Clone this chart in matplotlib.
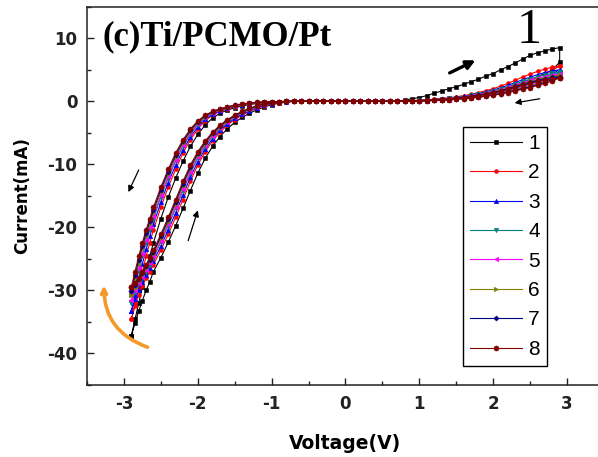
import matplotlib
matplotlib.use("Agg")
import matplotlib.pyplot as plt
from matplotlib.ticker import MultipleLocator

plt.rcParams["axes.unicode_minus"] = False

# Voltage grids (V): flat region near zero, positive branch, negative branch
V_FLAT = [0.0, 0.1, 0.2, 0.3, 0.4, 0.5, 0.6, 0.7]
V_FLAT_NEG = [0.0, -0.1, -0.2, -0.3, -0.4, -0.5, -0.6, -0.7]
V_POS = [0.8, 0.9, 1.0, 1.1, 1.2, 1.3, 1.4, 1.5, 1.6, 1.7, 1.8,
         1.9, 2.0, 2.1, 2.2, 2.3, 2.4, 2.5, 2.6, 2.7, 2.8, 2.9]
V_NEG = [-0.8, -0.9, -1.0, -1.1, -1.2, -1.3, -1.4, -1.5, -1.6, -1.7,
         -1.8, -1.9, -2.0, -2.1, -2.2, -2.3, -2.4, -2.5, -2.6,
         -2.65, -2.7, -2.75, -2.8, -2.85, -2.9]
I_FLAT = [0, 0, 0, 0, 0, 0, 0, 0]

cycles = ["1", "2", "3", "4", "5", "6", "7", "8"]

# Current (mA), positive side, sweep 0 -> +2.9 V (listed along V_POS)
POS_OUT = [
    [0.2, 0.4, 0.6, 0.9, 1.3, 1.6, 2.0, 2.3, 2.7, 3.1, 3.5, 4.0, 4.4, 5.0, 5.5, 6.1, 6.7, 7.3, 7.7, 8.0, 8.3, 8.5],
    [0.05, 0.1, 0.16, 0.23, 0.32, 0.43, 0.56, 0.72, 0.9, 1.12, 1.38, 1.68, 2.0, 2.4, 2.85, 3.35, 3.85, 4.3, 4.75, 5.1, 5.4, 5.6],
    [0.04, 0.09, 0.14, 0.2, 0.28, 0.38, 0.5, 0.64, 0.8, 1.0, 1.23, 1.5, 1.78, 2.14, 2.54, 2.98, 3.43, 3.83, 4.23, 4.54, 4.81, 5.0],
    [0.04, 0.08, 0.13, 0.19, 0.26, 0.35, 0.46, 0.59, 0.74, 0.92, 1.13, 1.38, 1.64, 1.97, 2.34, 2.75, 3.16, 3.53, 3.9, 4.18, 4.43, 4.6],
    [0.04, 0.08, 0.12, 0.18, 0.25, 0.33, 0.43, 0.55, 0.69, 0.86, 1.06, 1.29, 1.54, 1.85, 2.19, 2.58, 2.96, 3.31, 3.66, 3.93, 4.16, 4.3],
    [0.04, 0.07, 0.12, 0.17, 0.23, 0.31, 0.41, 0.53, 0.66, 0.82, 1.0, 1.23, 1.46, 1.75, 2.08, 2.45, 2.81, 3.14, 3.47, 3.72, 3.94, 4.1],
    [0.04, 0.07, 0.11, 0.16, 0.22, 0.3, 0.39, 0.5, 0.63, 0.78, 0.97, 1.18, 1.4, 1.68, 2.0, 2.35, 2.7, 3.01, 3.33, 3.57, 3.78, 3.9],
    [0.03, 0.07, 0.11, 0.15, 0.21, 0.28, 0.37, 0.48, 0.59, 0.74, 0.91, 1.11, 1.32, 1.58, 1.88, 2.21, 2.54, 2.84, 3.14, 3.37, 3.56, 3.7],
]
# Current (mA), positive side, sweep +2.9 -> 0 V (listed along V_POS)
POS_BACK = [
    [0.03, 0.06, 0.1, 0.15, 0.21, 0.29, 0.38, 0.5, 0.64, 0.8, 1.0, 1.25, 1.5, 1.8, 2.2, 2.6, 3.0, 3.4, 3.9, 4.4, 5.0, 6.2],
    [0.03, 0.05, 0.09, 0.14, 0.2, 0.28, 0.37, 0.48, 0.62, 0.78, 0.97, 1.2, 1.45, 1.75, 2.1, 2.5, 2.9, 3.3, 3.8, 4.3, 4.9, 5.6],
    [0.03, 0.04, 0.08, 0.12, 0.18, 0.25, 0.33, 0.43, 0.55, 0.69, 0.86, 1.07, 1.29, 1.56, 1.87, 2.23, 2.58, 2.94, 3.38, 3.83, 4.36, 5.0],
    [0.02, 0.04, 0.07, 0.11, 0.16, 0.23, 0.3, 0.39, 0.51, 0.64, 0.8, 0.98, 1.19, 1.44, 1.72, 2.05, 2.38, 2.71, 3.12, 3.53, 4.02, 4.6],
    [0.02, 0.04, 0.07, 0.11, 0.15, 0.22, 0.28, 0.37, 0.48, 0.6, 0.75, 0.92, 1.12, 1.35, 1.62, 1.93, 2.23, 2.54, 2.93, 3.31, 3.77, 4.3],
    [0.02, 0.04, 0.07, 0.1, 0.15, 0.2, 0.27, 0.35, 0.45, 0.57, 0.71, 0.88, 1.06, 1.28, 1.53, 1.83, 2.12, 2.41, 2.77, 3.14, 3.58, 4.1],
    [0.02, 0.04, 0.06, 0.1, 0.14, 0.2, 0.26, 0.34, 0.43, 0.55, 0.68, 0.84, 1.02, 1.23, 1.47, 1.75, 2.03, 2.31, 2.66, 3.01, 3.43, 3.9],
    [0.02, 0.03, 0.06, 0.09, 0.13, 0.18, 0.24, 0.32, 0.41, 0.51, 0.64, 0.79, 0.96, 1.16, 1.39, 1.65, 1.91, 2.18, 2.51, 2.84, 3.23, 3.7],
]
# Current (mA), negative side, sweep 0 -> -2.9 V (listed along V_NEG)
NEG_OUT = [
    [-0.05, -0.08, -0.14, -0.23, -0.35, -0.51, -0.74, -1.04, -1.4, -1.9, -2.65, -3.75, -5.25, -7.15, -9.5, -12.2, -15.2, -18.6, -22.4, -24.6, -27.0, -29.5, -32.0, -34.6, -37.2],
    [-0.04, -0.06, -0.1, -0.18, -0.28, -0.42, -0.6, -0.88, -1.2, -1.6, -2.2, -3.1, -4.4, -6.1, -8.2, -10.8, -13.6, -16.8, -20.4, -22.4, -24.6, -27.0, -29.5, -32.0, -34.6],
    [-0.035, -0.055, -0.09, -0.16, -0.255, -0.385, -0.555, -0.81, -1.12, -1.5, -2.05, -2.88, -4.08, -5.68, -7.68, -10.15, -12.9, -16.0, -19.5, -21.4, -23.5, -25.8, -28.25, -30.75, -33.3],
    [-0.03, -0.05, -0.08, -0.14, -0.23, -0.35, -0.51, -0.74, -1.04, -1.4, -1.9, -2.65, -3.75, -5.25, -7.15, -9.5, -12.2, -15.2, -18.6, -20.4, -22.4, -24.6, -27.0, -29.5, -32.0],
    [-0.028, -0.048, -0.076, -0.132, -0.22, -0.336, -0.492, -0.712, -1.01, -1.36, -1.84, -2.56, -3.62, -5.08, -6.94, -9.24, -11.9, -14.9, -18.2, -20.0, -22.0, -24.2, -26.5, -29.0, -31.5],
    [-0.025, -0.045, -0.07, -0.12, -0.205, -0.315, -0.465, -0.67, -0.96, -1.3, -1.75, -2.43, -3.43, -4.83, -6.63, -8.85, -11.5, -14.4, -17.7, -19.5, -21.4, -23.5, -25.8, -28.25, -30.75],
    [-0.022, -0.042, -0.065, -0.11, -0.19, -0.3, -0.44, -0.64, -0.92, -1.25, -1.68, -2.32, -3.27, -4.62, -6.37, -8.53, -11.15, -14.0, -17.25, -19.05, -20.9, -22.95, -25.2, -27.6, -30.1],
    [-0.02, -0.04, -0.06, -0.1, -0.18, -0.28, -0.42, -0.6, -0.88, -1.2, -1.6, -2.2, -3.1, -4.4, -6.1, -8.2, -10.8, -13.6, -16.8, -18.6, -20.4, -22.4, -24.6, -27.0, -29.5],
]
# Current (mA), negative side, sweep -2.9 -> 0 V (listed along V_NEG)
NEG_BACK = [
    [-0.15, -0.3, -0.55, -0.9, -1.35, -1.9, -2.55, -3.35, -4.35, -5.6, -7.15, -9.05, -11.4, -14.15, -17.0, -19.75, -22.35, -24.8, -27.0, -28.6, -30.0, -31.6, -33.3, -35.2, -37.2],
    [-0.1, -0.2, -0.4, -0.7, -1.1, -1.6, -2.2, -2.9, -3.8, -4.9, -6.3, -8.0, -10.1, -12.7, -15.6, -18.4, -21.1, -23.6, -25.9, -27.0, -28.1, -29.3, -30.7, -32.5, -34.6],
    [-0.08, -0.175, -0.35, -0.625, -1.0, -1.475, -2.05, -2.725, -3.575, -4.625, -5.95, -7.575, -9.575, -12.05, -14.875, -17.7, -20.425, -22.975, -25.35, -26.45, -27.55, -28.65, -29.85, -31.4, -33.3],
    [-0.06, -0.15, -0.3, -0.55, -0.9, -1.35, -1.9, -2.55, -3.35, -4.35, -5.6, -7.15, -9.05, -11.4, -14.15, -17.0, -19.75, -22.35, -24.8, -25.9, -27.0, -28.0, -29.0, -30.3, -32.0],
    [-0.054, -0.14, -0.28, -0.52, -0.86, -1.3, -1.84, -2.48, -3.26, -4.24, -5.46, -6.98, -8.84, -11.14, -13.86, -16.72, -19.48, -22.1, -24.56, -25.7, -26.8, -27.8, -28.8, -30.0, -31.5],
    [-0.045, -0.125, -0.25, -0.475, -0.8, -1.225, -1.75, -2.375, -3.125, -4.075, -5.25, -6.725, -8.525, -10.75, -13.425, -16.3, -19.075, -21.725, -24.2, -25.35, -26.45, -27.5, -28.5, -29.55, -30.75],
    [-0.038, -0.113, -0.225, -0.44, -0.75, -1.16, -1.68, -2.29, -3.01, -3.94, -5.08, -6.51, -8.26, -10.43, -13.06, -15.95, -18.74, -21.41, -23.9, -25.1, -26.2, -27.25, -28.25, -29.2, -30.1],
    [-0.03, -0.1, -0.2, -0.4, -0.7, -1.1, -1.6, -2.2, -2.9, -3.8, -4.9, -6.3, -8.0, -10.1, -12.7, -15.6, -18.4, -21.1, -23.6, -24.8, -25.9, -27.0, -28.0, -28.8, -29.5],
]

colors = ["#000000", "#ff0000", "#0000ff", "#008080",
          "#ff00ff", "#808000", "#000080", "#800000"]
markers = ["s", "o", "^", "v", "<", ">", "D", "o"]
msizes = [2.4, 2.8, 3.2, 3.2, 3.2, 3.2, 2.6, 3.6]

fig = plt.figure(figsize=(5.98, 4.57), dpi=100)
ax = fig.add_axes([0.1455, 0.1575, 0.8645, 0.8278])

for k in range(len(cycles)):
    # full sweep: 0 -> +V -> 0 -> -V -> 0
    v = (V_FLAT + V_POS + V_POS[::-1] + V_FLAT[::-1] + V_FLAT_NEG[1:]
         + V_NEG + V_NEG[::-1] + V_FLAT_NEG[::-1])
    i = (I_FLAT + POS_OUT[k] + POS_BACK[k][::-1] + I_FLAT[::-1] + I_FLAT[1:]
         + NEG_OUT[k] + NEG_BACK[k][::-1] + I_FLAT[::-1])
    ax.plot(v, i, color=colors[k], marker=markers[k], markersize=msizes[k],
            linewidth=0.8, markeredgewidth=0.4, label=cycles[k])

ax.set_xlim(-3.5, 3.5)
ax.set_ylim(-45, 15)
ax.xaxis.set_major_locator(MultipleLocator(1))
ax.xaxis.set_minor_locator(MultipleLocator(0.5))
ax.yaxis.set_major_locator(MultipleLocator(10))
ax.yaxis.set_minor_locator(MultipleLocator(5))
ax.tick_params(which="both", direction="in", top=False, right=False,
               width=1, colors="#222222")
ax.tick_params(which="major", length=5, labelsize=12, pad=7)
ax.tick_params(which="minor", length=3)
for lab in ax.get_xticklabels() + ax.get_yticklabels():
    lab.set_fontweight("bold")
    lab.set_family("DejaVu Sans")
for s in ax.spines.values():
    s.set_linewidth(1.1)
    s.set_color("#222222")

ax.set_xlabel("Voltage(V)", fontsize=13.5, fontweight="bold", family="DejaVu Sans")
ax.set_ylabel("Current(mA)", fontsize=12, fontweight="bold", family="DejaVu Sans")
ax.xaxis.set_label_coords(0.5, -0.13)
ax.yaxis.set_label_coords(-0.108, 0.5)

leg = ax.legend(loc="upper left", bbox_to_anchor=(462.7 / 598, 1 - 126.7 / 457),
                bbox_transform=fig.transFigure, fancybox=False, edgecolor="black",
                framealpha=1, numpoints=1, handlelength=2.5, handletextpad=0.3,
                labelspacing=0.5, borderpad=0.35, borderaxespad=0,
                prop={"family": "Liberation Sans", "size": 15})
leg.get_frame().set_linewidth(1.0)

# sweep-direction arrows
thin = dict(arrowstyle="-|>", color="black", lw=0.9, mutation_scale=9,
            shrinkA=0, shrinkB=0)
ax.annotate("", xy=(-2.94, -14.4), xytext=(-2.80, -10.9), arrowprops=thin)
ax.annotate("", xy=(-2.0, -17.3), xytext=(-2.13, -22.1), arrowprops=thin)
ax.annotate("", xy=(2.29, -0.26), xytext=(2.63, 0.4), arrowprops=thin)
ax.annotate("", xy=(1.76, 6.5), xytext=(1.41, 4.5),
            arrowprops=dict(arrowstyle="-|>", color="black", lw=2.4,
                            mutation_scale=13, shrinkA=0, shrinkB=0))
ax.annotate("", xy=(-3.27, -29.2), xytext=(-2.68, -39.0),
            arrowprops=dict(arrowstyle="-|>", color="#f39a2b", lw=2.6,
                            mutation_scale=9, shrinkA=0, shrinkB=0,
                            connectionstyle="arc3,rad=-0.35"))

fig.text(103 / 598, 1 - 45 / 457, "(c)Ti/PCMO/Pt", fontsize=25,
         fontweight="bold", family="Liberation Serif", va="baseline")
fig.text(529 / 598, 1 - 43 / 457, "1", fontsize=36, family="Liberation Serif",
         ha="center", va="baseline")

fig.savefig("out.png", dpi=100)
